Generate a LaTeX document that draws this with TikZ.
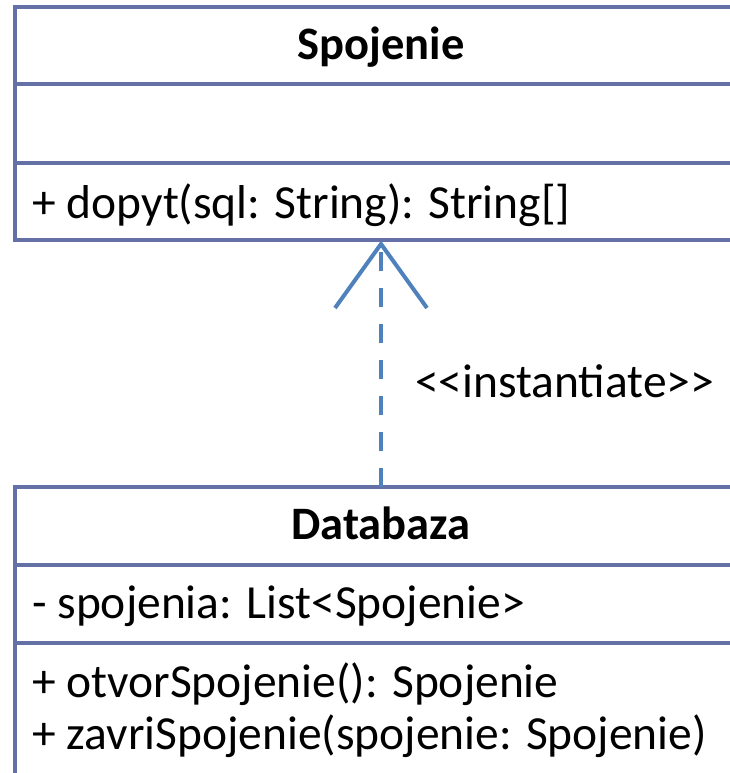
\documentclass[tikz,border=0pt]{standalone}
\usepackage{fontspec}
\setmainfont{Carlito}
\usetikzlibrary{calc}
\definecolor{frameline}{RGB}{100,112,166}
\definecolor{linkblue}{RGB}{79,129,189}
\begin{document}
\begin{tikzpicture}[x=1pt,y=-1pt,
  classbox/.style={draw=frameline, line width=3.8pt, minimum width=732pt,
    anchor=north west, inner sep=0pt, outer sep=0pt},
  divider/.style={draw=frameline, line width=3.8pt},
  classname/.style={font=\fontsize{46.5}{56}\selectfont\bfseries, inner sep=0pt, anchor=base},
  member/.style={font=\fontsize{47.5}{57}\selectfont, inner sep=0pt, anchor=base west},
  stereo/.style={font=\fontsize{47.5}{57}\selectfont, inner sep=0pt, anchor=base west},
  dep/.style={draw=linkblue, line width=4.5pt, dash pattern=on 19.5pt off 16.5pt},
  wing/.style={draw=linkblue, line width=4pt, line join=miter}]
\useasboundingbox (0,0) rectangle (730,773);

% class Spojenie
\node[classbox, minimum height=233pt] (spoj) at (15,7) {};
\draw[divider] (spoj.north west) ++(0,77) -- ++(732,0);
\draw[divider] (spoj.north west) ++(0,156) -- ++(732,0);
\node[classname] (spojT) at ($(spoj.north)+(0,53)$) {Spojenie};
\node[member] (dopyt) at (32,218) {+ dopyt(sql: String): String[]};

% class Databaza
\node[classbox, minimum height=330pt] (dbz) at (15,487) {};
\draw[divider] (dbz.north west) ++(0,78) -- ++(732,0);
\draw[divider] (dbz.north west) ++(0,156) -- ++(732,0);
\node[classname] (dbzT) at ($(dbz.north)+(0,52)$) {Databaza};
\node[member] (attr) at (32,618) {- spojenia: List<\kern0pt Spojenie>};
\node[member] (otvor) at (32,697) {+ otvorSpojenie(): Spojenie};
\node[member] (zavri) at (32,749) {+ zavriSpojenie(spojenie: Spojenie)};

% instantiate dependency
\coordinate (tip) at ($(spoj.south)+(0,4)$);
\draw[dep] (dbz.north) -- (tip);
\draw[wing] ($(tip)+(-46,64)$) -- (tip) -- ($(tip)+(46,64)$);
\node[stereo] (inst) at (415,397) {<\kern0pt<\kern0pt instantiate>\kern0pt>};
\end{tikzpicture}
\end{document}
